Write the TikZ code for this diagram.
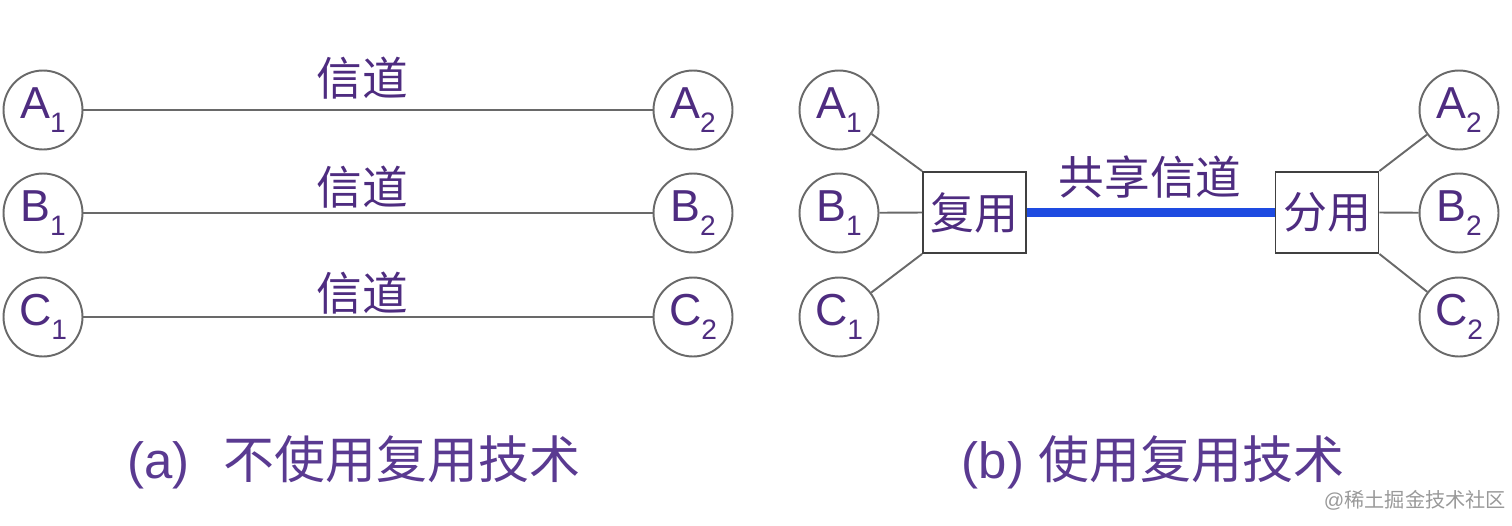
\documentclass[tikz,border=0pt]{standalone}
\usepackage{fontspec}
\setmainfont{Liberation Sans}
\newfontfamily\cjk{Noto Sans CJK SC}
\definecolor{txtpurple}{RGB}{78,44,128}
\definecolor{capurple}{RGB}{90,58,145}
\definecolor{edgegray}{RGB}{105,105,105}
\definecolor{chanblue}{RGB}{30,75,225}
\newcommand\sublab[2]{#1\raisebox{-0.3em}{\fontsize{16}{16}\selectfont #2}}
\begin{document}
\begin{tikzpicture}[x=0.02cm,y=-0.02cm,
  station/.style={circle,draw=edgegray,line width=1.1pt,minimum size=1.58cm,inner sep=0pt,
    text=txtpurple,font=\fontsize{25.5}{28}\selectfont},
  muxbox/.style={rectangle,draw=black!75,line width=1.1pt,minimum width=2.06cm,minimum height=1.62cm,
    inner sep=0pt,text=txtpurple,font=\fontsize{25}{27}\selectfont\cjk},
  wire/.style={draw=edgegray,line width=1.1pt},
  chanlab/.style={text=txtpurple,font=\fontsize{26}{28}\selectfont\cjk,inner sep=0pt},
  caption/.style={text=capurple,font=\fontsize{29}{31}\selectfont,inner sep=0pt}]
\useasboundingbox (0,0) rectangle (1512,525);
% (a)
\node[station] (la1) at (43,110) {\sublab{A}{1}};
\node[station] (lb1) at (43,213) {\sublab{B}{1}};
\node[station] (lc1) at (43,317) {\sublab{C}{1}};
\node[station] (la2) at (693,110) {\sublab{A}{2}};
\node[station] (lb2) at (693,213) {\sublab{B}{2}};
\node[station] (lc2) at (693,317) {\sublab{C}{2}};
\draw[wire] (la1) -- (la2);
\draw[wire] (lb1) -- (lb2);
\draw[wire] (lc1) -- (lc2);
\node[chanlab] (ch1) at (362,78) {信道};
\node[chanlab] (ch2) at (362,187) {信道};
\node[chanlab] (ch3) at (362,293) {信道};
% (b)
\node[station] (ra1) at (839,110) {\sublab{A}{1}};
\node[station] (rb1) at (839,213) {\sublab{B}{1}};
\node[station] (rc1) at (839,317) {\sublab{C}{1}};
\node[station] (ra2) at (1459,110) {\sublab{A}{2}};
\node[station] (rb2) at (1459,213) {\sublab{B}{2}};
\node[station] (rc2) at (1459,317) {\sublab{C}{2}};
\node[muxbox] (mux) at (974.5,212.5) {复用};
\node[muxbox] (demux) at (1327,212.5) {分用};
\draw[wire] (ra1) -- (mux.north west);
\draw[wire] (rb1) -- (mux.west);
\draw[wire] (rc1) -- (mux.south west);
\draw[wire] (demux.north east) -- (ra2);
\draw[wire] (demux.east) -- (rb2);
\draw[wire] (demux.south east) -- (rc2);
\draw[draw=chanblue,line width=5.6pt] (mux.east) -- (demux.west);
\node[chanlab] (share) at (1150,177) {共享信道};
% captions
\node[caption] (capa) at (354,462) {(a)\hspace{0.68cm}{\cjk 不使用复用技术}};
\node[caption] (capb) at (1153,462) {(b) {\cjk 使用复用技术}};
\node[text=black!40,font=\fontsize{11.5}{12}\selectfont,inner sep=0pt] (wm) at (1415,500) {@{\cjk 稀土掘金技术社区}};
\end{tikzpicture}
\end{document}
